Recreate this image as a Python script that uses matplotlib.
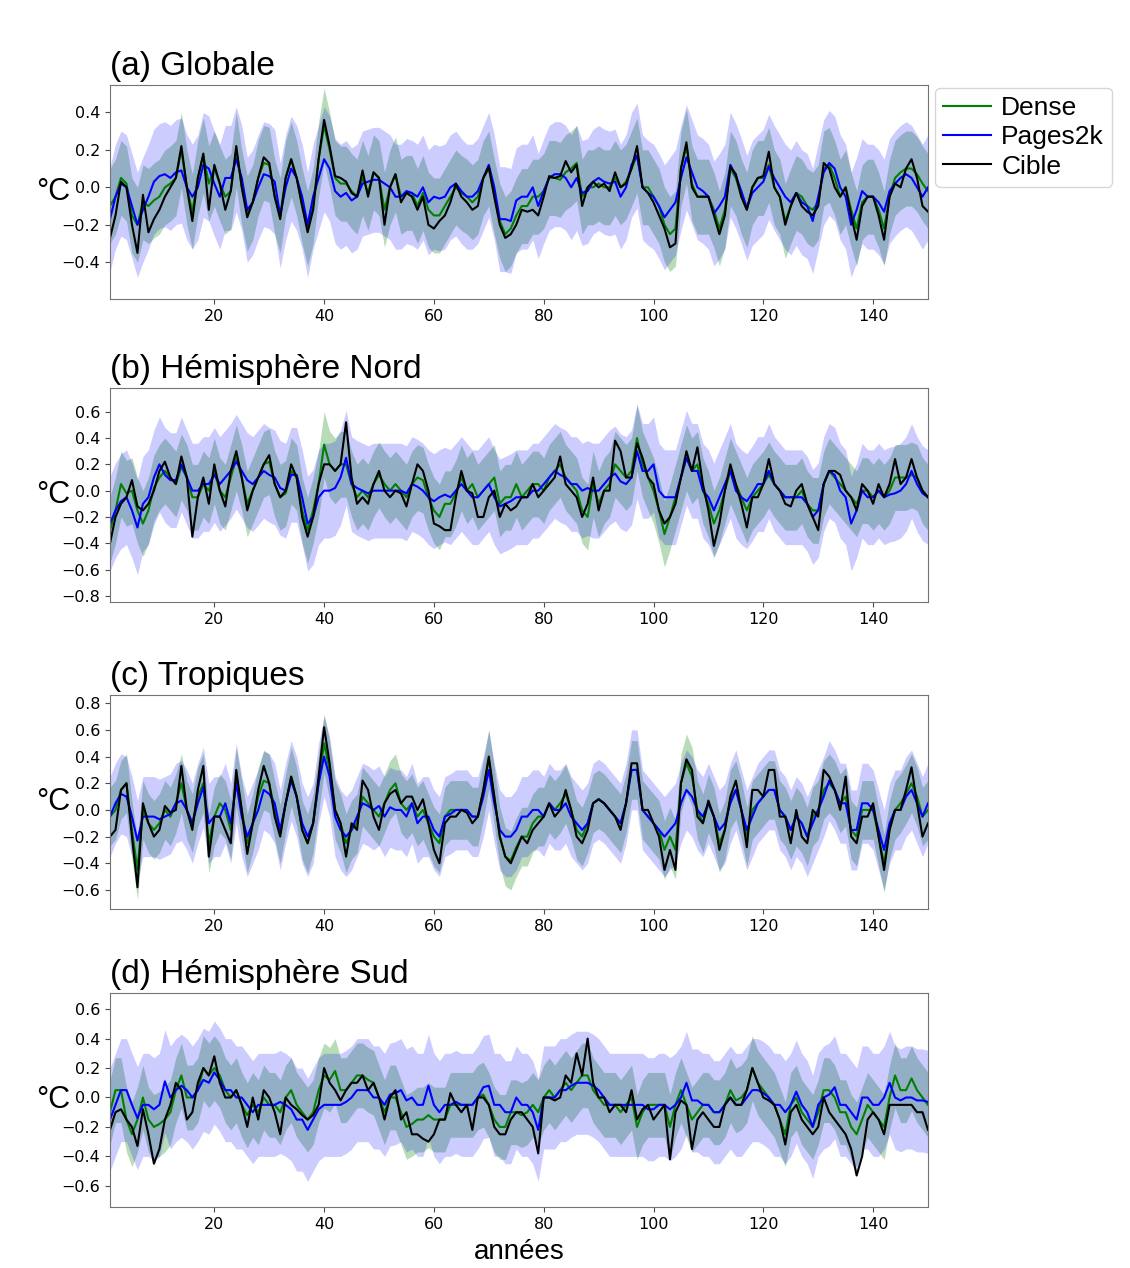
import numpy as np
import matplotlib.pyplot as plt

years = np.arange(1, 151)

# (a) Globale
dense_a = [-0.1, -0.05, 0.05, 0.02, -0.15, -0.2, -0.08, -0.1, -0.07, -0.05,
           0.0, 0.02, 0.05, 0.2, 0.0, -0.13, 0.05, 0.17, 0.02, 0.1,
           0.02, -0.05, -0.02, 0.2, 0.0, -0.14, -0.08, 0.05, 0.13, 0.12,
           -0.05, -0.15, 0.05, 0.15, 0.05, -0.1, -0.22, -0.1, 0.15, 0.33,
           0.2, 0.05, 0.02, 0.02, -0.02, -0.05, 0.05, -0.03, 0.08, 0.05,
           -0.12, 0.0, 0.07, -0.05, -0.03, -0.03, -0.1, -0.03, -0.12, -0.15,
           -0.15, -0.1, -0.05, 0.0, -0.03, -0.05, -0.08, -0.05, 0.05, 0.1,
           -0.05, -0.18, -0.25, -0.22, -0.15, -0.1, -0.1, -0.05, -0.05, -0.02,
           0.05, 0.05, 0.04, 0.08, 0.1, 0.13, -0.05, 0.0, 0.0, 0.02,
           0.0, 0.0, 0.05, 0.0, 0.03, 0.1, 0.17, 0.0, 0.0, -0.05,
           -0.1, -0.2, -0.25, -0.22, 0.1, 0.22, 0.02, -0.05, -0.05, -0.05,
           -0.12, -0.22, -0.12, 0.1, 0.05, -0.05, -0.12, 0.0, 0.05, 0.05,
           0.12, 0.0, -0.05, -0.18, -0.1, -0.03, -0.05, -0.1, -0.12, -0.08,
           0.1, 0.12, 0.05, -0.05, 0.0, -0.12, -0.22, -0.08, -0.05, -0.05,
           -0.12, -0.22, -0.05, 0.05, 0.08, 0.1, 0.1, 0.07, 0.02, -0.02]
pages_a = [-0.17, -0.05, 0.02, 0.0, -0.1, -0.2, -0.12, -0.05, 0.03, 0.06,
           0.07, 0.05, 0.08, 0.09, 0.0, -0.05, 0.0, 0.12, 0.1, 0.02,
           -0.05, 0.05, 0.05, 0.15, 0.05, -0.12, -0.08, 0.0, 0.07, 0.06,
           0.03, -0.15, 0.0, 0.1, 0.05, -0.05, -0.2, -0.05, 0.05, 0.15,
           0.1, -0.02, -0.05, -0.03, -0.07, -0.05, 0.02, 0.03, 0.04, 0.04,
           0.02, 0.0, -0.05, -0.05, -0.02, -0.03, -0.05, 0.0, -0.08, -0.05,
           -0.06, -0.05, 0.0, 0.02, -0.02, -0.05, -0.05, -0.02, 0.05, 0.12,
           0.0, -0.17, -0.17, -0.18, -0.07, -0.05, -0.05, 0.0, -0.1, -0.02,
           0.05, 0.07, 0.07, 0.05, 0.0, 0.05, -0.03, -0.02, 0.03, 0.05,
           0.03, 0.02, 0.03, -0.05, 0.0, 0.12, 0.17, 0.0, -0.03, -0.05,
           -0.1, -0.16, -0.12, -0.08, 0.05, 0.16, 0.08, 0.0, -0.02, -0.05,
           -0.14, -0.1, -0.05, 0.12, 0.06, -0.02, -0.11, -0.03, 0.0, 0.03,
           0.11, 0.05, 0.0, -0.05, -0.08, -0.03, -0.08, -0.1, -0.18, -0.05,
           0.08, 0.13, 0.1, 0.0, -0.05, -0.2, -0.12, -0.02, -0.05, -0.05,
           -0.08, -0.13, -0.02, 0.02, 0.05, 0.07, 0.05, 0.0, -0.05, 0.0]
cible_a = [-0.27, -0.15, 0.03, 0.0, -0.2, -0.35, -0.04, -0.24, -0.17, -0.12,
           -0.05, 0.0, 0.05, 0.22, 0.0, -0.18, 0.05, 0.18, -0.12, 0.12,
           0.02, -0.12, -0.02, 0.22, 0.0, -0.16, -0.08, 0.05, 0.16, 0.13,
           -0.05, -0.17, 0.05, 0.15, 0.05, -0.1, -0.24, -0.12, 0.15, 0.36,
           0.22, 0.06, 0.05, 0.03, -0.03, -0.05, 0.09, -0.05, 0.08, 0.05,
           -0.2, 0.0, 0.07, -0.08, -0.03, -0.05, -0.12, -0.05, -0.2, -0.22,
           -0.18, -0.15, -0.08, 0.02, -0.05, -0.08, -0.12, -0.1, 0.05, 0.11,
           -0.05, -0.2, -0.27, -0.25, -0.2, -0.12, -0.13, -0.12, -0.15, -0.05,
           0.06, 0.05, 0.06, 0.14, 0.08, 0.12, -0.1, 0.0, 0.03, 0.0,
           0.02, -0.02, 0.08, 0.0, 0.02, 0.1, 0.22, 0.0, -0.03, -0.08,
           -0.15, -0.22, -0.32, -0.3, 0.1, 0.24, 0.0, -0.05, -0.05, -0.05,
           -0.15, -0.25, -0.15, 0.11, 0.07, -0.05, -0.12, 0.0, 0.05, 0.06,
           0.19, 0.0, -0.05, -0.2, -0.1, -0.03, -0.1, -0.13, -0.15, -0.1,
           0.13, 0.1, 0.0, -0.05, 0.0, -0.15, -0.28, -0.1, -0.05, -0.05,
           -0.15, -0.28, -0.05, 0.02, 0.0, 0.1, 0.15, 0.05, -0.1, -0.13]

# (b) Hémisphère Nord
dense_b = [-0.3, -0.15, 0.05, -0.02, 0.0, -0.15, -0.25, -0.15, 0.02, 0.1,
           0.15, 0.1, 0.05, 0.18, 0.1, -0.05, -0.05, 0.05, 0.0, 0.15,
           0.0, -0.05, 0.1, 0.25, 0.1, -0.1, 0.0, 0.1, 0.2, 0.22,
           0.05, -0.05, -0.02, 0.15, 0.1, -0.15, -0.3, -0.15, 0.05, 0.35,
           0.2, 0.15, 0.2, 0.2, 0.05, -0.05, 0.0, -0.05, 0.05, 0.12,
           0.05, 0.0, 0.05, 0.0, -0.05, 0.05, 0.1, 0.08, -0.05, -0.15,
           -0.2, -0.1, -0.1, -0.02, 0.1, 0.0, 0.05, -0.05, 0.0, 0.05,
           0.1, -0.1, -0.05, -0.05, 0.05, -0.05, 0.0, 0.05, 0.05, 0.0,
           0.1, 0.15, 0.2, 0.1, 0.05, 0.0, -0.15, -0.2, 0.05, -0.1,
           0.0, 0.05, 0.2, 0.15, 0.1, 0.15, 0.4, 0.2, 0.1, 0.0,
           -0.15, -0.33, -0.2, -0.05, 0.1, 0.25, 0.15, 0.2, 0.0, -0.1,
           -0.25, -0.15, 0.0, 0.15, 0.05, -0.05, -0.15, -0.05, 0.0, 0.05,
           0.12, 0.05, 0.0, -0.05, -0.05, -0.05, 0.0, -0.1, -0.15, -0.15,
           0.05, 0.15, 0.1, 0.05, 0.0, -0.05, -0.1, 0.0, 0.0, -0.05,
           0.0, -0.05, 0.0, 0.1, 0.1, 0.1, 0.12, 0.1, 0.0, -0.05]
pages_b = [-0.25, -0.15, -0.08, -0.05, -0.15, -0.28, -0.1, -0.05, 0.1, 0.2,
           0.12, 0.08, 0.08, 0.2, 0.1, 0.0, 0.0, 0.05, 0.05, 0.12,
           0.05, 0.1, 0.15, 0.22, 0.15, 0.08, 0.05, 0.1, 0.15, 0.12,
           0.1, 0.02, 0.0, 0.12, 0.12, -0.05, -0.25, -0.2, -0.05, 0.0,
           0.0, 0.02, 0.1, 0.25, 0.05, 0.02, 0.0, -0.02, 0.0, 0.0,
           0.0, 0.0, 0.0, 0.0, -0.02, 0.05, 0.03, 0.0, -0.05, -0.08,
           -0.05, -0.03, -0.05, 0.0, 0.05, 0.0, -0.05, -0.05, 0.0, 0.05,
           -0.05, -0.12, -0.1, -0.08, -0.05, -0.05, -0.05, 0.0, 0.0, 0.05,
           0.1, 0.15, 0.12, 0.1, 0.05, 0.05, 0.0, 0.02, 0.0, 0.0,
           0.05, 0.1, 0.13, 0.07, 0.05, 0.1, 0.3, 0.15, 0.15, 0.2,
           0.0, -0.05, -0.05, -0.05, 0.1, 0.25, 0.15, 0.15, 0.0, -0.05,
           -0.15, -0.05, 0.05, 0.15, 0.0, -0.05, -0.08, -0.02, 0.05, 0.05,
           0.15, 0.05, 0.0, -0.05, -0.05, -0.05, -0.05, -0.1, -0.2, -0.15,
           0.05, 0.15, 0.12, 0.0, -0.05, -0.25, -0.15, 0.0, -0.05, -0.05,
           0.0, -0.05, -0.03, -0.02, 0.0, 0.05, 0.15, 0.05, -0.02, -0.05]
cible_b = [-0.4, -0.2, -0.1, -0.05, 0.08, -0.12, -0.15, -0.1, 0.0, 0.15,
           0.22, 0.1, 0.05, 0.26, 0.1, -0.35, -0.05, 0.1, -0.1, 0.2,
           0.0, -0.12, 0.15, 0.3, 0.1, -0.15, 0.0, 0.1, 0.2, 0.27,
           0.05, -0.05, 0.0, 0.2, 0.1, -0.2, -0.35, -0.2, 0.05, 0.2,
           0.2, 0.15, 0.2, 0.52, 0.1, -0.1, -0.05, -0.1, 0.05, 0.15,
           0.0, -0.05, 0.0, -0.02, -0.12, 0.05, 0.2, 0.15, 0.0, -0.25,
           -0.27, -0.3, -0.3, -0.05, 0.15, 0.0, -0.02, -0.2, -0.2, -0.05,
           0.0, -0.2, -0.1, -0.15, -0.12, -0.05, -0.05, 0.05, -0.05, 0.0,
           0.05, 0.1, 0.26, 0.05, 0.0, -0.05, -0.2, -0.1, 0.1, -0.15,
           0.0, 0.0, 0.38, 0.3, 0.1, 0.1, 0.36, 0.25, 0.1, 0.05,
           -0.15, -0.25, -0.2, -0.1, 0.1, 0.3, 0.15, 0.33, 0.05, -0.15,
           -0.42, -0.25, 0.0, 0.2, 0.05, -0.1, -0.28, -0.05, -0.05, 0.05,
           0.24, 0.05, 0.0, -0.1, -0.12, 0.0, 0.05, -0.1, -0.2, -0.3,
           0.05, 0.15, 0.15, 0.12, 0.0, -0.05, -0.15, 0.05, 0.0, -0.1,
           0.05, -0.05, 0.05, 0.24, 0.05, 0.1, 0.24, 0.1, 0.0, -0.05]

# (c) Tropiques
dense_c = [-0.05, 0.0, 0.15, 0.2, -0.15, -0.45, 0.0, -0.1, -0.15, -0.1,
           0.0, -0.05, 0.05, 0.2, 0.0, -0.1, 0.1, 0.2, -0.25, -0.05,
           0.05, 0.0, -0.15, 0.25, 0.0, -0.25, -0.1, 0.1, 0.22, 0.2,
           0.0, -0.18, 0.05, 0.25, 0.1, -0.15, -0.25, -0.1, 0.2, 0.5,
           0.3, 0.0, -0.1, -0.25, -0.15, -0.1, 0.1, 0.05, 0.0, -0.05,
           0.05, 0.15, 0.2, 0.05, 0.0, 0.05, -0.05, 0.0, -0.1, -0.2,
           -0.25, -0.05, 0.0, 0.0, 0.0, 0.0, -0.05, -0.05, 0.15, 0.38,
           0.1, -0.2, -0.35, -0.38, -0.28, -0.2, -0.2, -0.1, -0.05, -0.05,
           0.05, 0.0, 0.05, 0.12, 0.0, -0.15, -0.2, -0.1, 0.05, 0.08,
           0.05, 0.0, -0.05, -0.1, 0.05, 0.3, 0.3, 0.0, -0.05, -0.1,
           -0.15, -0.3, -0.2, -0.3, 0.2, 0.35, 0.25, 0.0, -0.1, 0.05,
           -0.05, -0.25, -0.15, 0.08, 0.15, 0.0, -0.2, 0.0, 0.05, 0.1,
           0.15, 0.15, 0.0, -0.05, -0.15, -0.05, -0.1, -0.2, -0.05, 0.0,
           0.15, 0.2, 0.15, 0.05, 0.1, -0.15, -0.2, 0.0, 0.0, 0.0,
           -0.2, -0.4, -0.15, 0.0, 0.05, 0.12, 0.2, 0.1, -0.05, 0.0]
pages_c = [-0.05, 0.05, 0.12, 0.1, -0.05, -0.23, -0.05, -0.05, -0.05, -0.07,
           -0.05, -0.03, 0.05, 0.07, 0.0, -0.1, 0.05, 0.17, -0.1, -0.05,
           -0.05, 0.05, -0.1, 0.2, -0.05, -0.2, -0.1, 0.0, 0.15, 0.12,
           0.05, -0.15, 0.05, 0.22, 0.1, -0.1, -0.2, -0.1, 0.2, 0.4,
           0.25, -0.05, -0.15, -0.2, -0.15, -0.05, 0.05, 0.03, 0.0, 0.03,
           -0.05, 0.02, 0.0, 0.0, -0.05, 0.05, -0.1, -0.05, -0.05, -0.15,
           -0.2, -0.05, -0.03, 0.0, 0.0, 0.0, -0.05, -0.05, 0.1, 0.3,
           0.05, -0.15, -0.2, -0.2, -0.15, -0.05, -0.05, 0.0, 0.0, -0.05,
           0.05, 0.0, 0.0, 0.05, -0.05, -0.1, -0.15, -0.1, 0.05, 0.08,
           0.05, 0.0, -0.05, -0.1, 0.05, 0.3, 0.3, 0.0, -0.05, -0.1,
           -0.15, -0.2, -0.15, -0.1, 0.05, 0.15, 0.1, 0.0, -0.05, 0.05,
           -0.05, -0.15, -0.1, 0.05, 0.15, 0.0, -0.15, -0.05, 0.05, 0.1,
           0.15, 0.15, 0.0, -0.05, -0.15, -0.05, -0.1, -0.2, -0.1, 0.0,
           0.1, 0.22, 0.15, 0.05, 0.05, -0.15, -0.15, 0.05, 0.05, 0.0,
           -0.15, -0.3, -0.1, 0.0, 0.0, 0.1, 0.15, 0.05, -0.05, 0.05]
cible_c = [-0.2, -0.15, 0.15, 0.2, -0.2, -0.58, 0.05, -0.1, -0.2, -0.15,
           0.03, -0.02, 0.0, 0.33, 0.0, -0.15, 0.15, 0.33, -0.35, -0.05,
           -0.05, -0.15, -0.25, 0.3, 0.0, -0.33, -0.1, 0.15, 0.33, 0.2,
           -0.05, -0.2, 0.05, 0.25, 0.1, -0.15, -0.25, -0.1, 0.25, 0.62,
           0.35, 0.0, -0.1, -0.35, -0.1, -0.15, 0.22, 0.15, -0.05, -0.15,
           0.05, 0.12, 0.15, 0.05, 0.1, 0.1, 0.0, 0.08, -0.1, -0.3,
           -0.4, -0.1, -0.05, -0.05, 0.0, -0.02, -0.1, -0.05, 0.15, 0.4,
           0.1, -0.2, -0.35, -0.4, -0.3, -0.2, -0.25, -0.15, -0.1, -0.05,
           0.05, -0.05, 0.0, 0.15, 0.0, -0.2, -0.25, -0.15, 0.05, 0.08,
           0.05, 0.0, -0.05, -0.15, 0.05, 0.35, 0.35, 0.0, 0.0, -0.1,
           -0.2, -0.45, -0.3, -0.45, 0.2, 0.38, 0.3, -0.05, -0.1, 0.07,
           -0.05, -0.3, -0.15, 0.1, 0.22, 0.0, -0.28, 0.15, 0.15, 0.1,
           0.3, 0.3, -0.05, -0.05, -0.25, 0.0, -0.2, -0.25, 0.0, -0.05,
           0.3, 0.25, 0.15, 0.0, 0.25, -0.2, -0.25, -0.05, -0.05, 0.05,
           -0.2, -0.45, -0.15, 0.0, 0.0, 0.15, 0.32, 0.05, -0.2, -0.1]

# (d) Hémisphère Sud
dense_d = [-0.1, 0.05, 0.05, -0.15, -0.25, -0.15, 0.0, -0.15, -0.2, -0.18,
           -0.15, -0.1, 0.05, 0.15, 0.0, 0.0, 0.05, 0.2, 0.15, 0.2,
           0.15, 0.05, 0.0, 0.05, -0.05, -0.12, -0.05, -0.1, 0.0, -0.05,
           -0.05, -0.1, 0.0, 0.05, -0.05, -0.1, -0.15, -0.1, 0.05, 0.15,
           0.12, 0.18, 0.05, 0.05, 0.1, 0.15, 0.15, 0.12, 0.1, 0.0,
           -0.1, 0.0, 0.0, -0.1, -0.2, -0.18, -0.15, -0.15, -0.12, -0.15,
           -0.15, -0.15, -0.05, -0.05, -0.05, -0.05, -0.05, 0.0, 0.02, -0.05,
           -0.15, -0.2, -0.2, -0.1, -0.1, -0.12, -0.1, -0.05, -0.1, 0.0,
           0.05, 0.0, 0.05, 0.1, 0.05, 0.1, 0.15, 0.15, 0.05, 0.0,
           -0.05, -0.05, -0.05, -0.1, -0.05, 0.0, -0.2, -0.1, -0.05, -0.05,
           -0.05, -0.05, -0.2, -0.05, 0.05, -0.05, -0.15, -0.1, -0.05, -0.05,
           -0.1, -0.1, -0.05, 0.05, -0.02, 0.0, 0.05, 0.2, 0.1, 0.05,
           0.0, -0.05, -0.15, -0.25, -0.05, 0.0, -0.1, -0.15, -0.2, -0.1,
           0.05, 0.05, 0.0, -0.1, -0.1, -0.2, -0.25, -0.15, -0.05, -0.1,
           -0.15, -0.2, 0.0, 0.15, 0.05, 0.05, 0.13, 0.05, 0.0, -0.05]
pages_d = [-0.15, -0.05, 0.05, 0.05, -0.05, -0.14, -0.05, -0.05, -0.08, -0.05,
           0.11, 0.0, 0.05, 0.08, 0.05, 0.0, 0.05, 0.12, 0.1, 0.17,
           0.12, 0.05, 0.05, 0.0, 0.0, -0.05, -0.1, -0.05, -0.05, -0.05,
           -0.05, -0.03, -0.05, -0.08, -0.15, -0.15, -0.22, -0.15, -0.08, -0.05,
           -0.05, -0.05, -0.05, -0.03, 0.0, 0.05, 0.05, 0.05, 0.0, 0.0,
           -0.05, 0.02, 0.03, 0.05, -0.02, 0.0, -0.05, -0.05, 0.08, -0.05,
           -0.1, -0.05, -0.05, -0.03, -0.05, -0.05, -0.05, 0.0, 0.07, 0.08,
           -0.05, -0.05, -0.1, -0.1, 0.0, -0.05, -0.05, -0.1, -0.22, 0.0,
           0.0, 0.0, 0.05, 0.05, 0.08, 0.1, 0.1, 0.1, 0.08, 0.05,
           0.0, -0.05, -0.05, -0.05, -0.05, -0.05, -0.05, -0.05, -0.08, -0.08,
           -0.05, -0.05, -0.08, -0.05, 0.0, 0.1, -0.02, -0.02, -0.05, -0.05,
           -0.1, -0.1, -0.05, 0.0, -0.05, -0.05, 0.0, 0.05, 0.05, 0.03,
           0.0, -0.05, -0.05, -0.1, -0.05, 0.04, -0.05, -0.1, -0.2, -0.05,
           0.0, 0.02, 0.07, -0.05, -0.05, -0.1, -0.15, 0.0, 0.0, -0.05,
           -0.05, 0.0, 0.1, 0.0, -0.02, 0.0, 0.0, -0.02, -0.02, -0.03]
cible_d = [-0.22, -0.1, -0.08, -0.15, -0.2, -0.33, -0.08, -0.25, -0.45, -0.35,
           -0.15, -0.05, 0.1, 0.05, -0.15, -0.1, 0.1, 0.2, 0.15, 0.28,
           0.1, 0.0, 0.0, 0.05, -0.05, -0.2, 0.0, -0.15, 0.05, 0.0,
           -0.1, -0.25, 0.0, -0.05, -0.08, -0.12, -0.15, -0.12, -0.05, 0.2,
           0.1, 0.05, -0.02, 0.05, 0.1, 0.1, 0.15, 0.05, 0.1, 0.0,
           -0.15, 0.0, 0.05, -0.15, -0.1, -0.25, -0.25, -0.28, -0.3, -0.25,
           -0.15, -0.15, 0.03, -0.05, -0.1, -0.05, -0.22, 0.0, 0.0, -0.05,
           -0.2, -0.25, -0.25, -0.15, -0.1, -0.1, -0.15, -0.2, -0.38, 0.0,
           0.0, -0.02, 0.0, 0.15, 0.1, 0.3, 0.15, 0.4, 0.1, 0.0,
           0.0, -0.1, -0.05, -0.05, -0.1, 0.05, -0.15, -0.08, -0.05, -0.15,
           -0.1, -0.05, -0.42, -0.1, -0.02, -0.05, -0.35, -0.15, -0.1, -0.15,
           -0.2, -0.2, -0.05, 0.0, -0.05, -0.05, 0.05, 0.2, 0.1, 0.0,
           -0.02, -0.05, -0.15, -0.32, -0.1, -0.05, -0.15, -0.2, -0.25, -0.2,
           0.0, -0.1, -0.15, -0.2, -0.25, -0.35, -0.53, -0.4, -0.15, -0.1,
           -0.15, -0.25, -0.05, -0.05, -0.05, -0.05, -0.05, -0.1, -0.1, -0.22]

titles = ['(a) Globale', '(b) Hémisphère Nord', '(c) Tropiques', '(d) Hémisphère Sud']
dense_all = [dense_a, dense_b, dense_c, dense_d]
pages_all = [pages_a, pages_b, pages_c, pages_d]
cible_all = [cible_a, cible_b, cible_c, cible_d]
# half-width of the uncertainty bands, per panel
spread_dense = [0.2, 0.25, 0.22, 0.22]
spread_pages = [0.28, 0.36, 0.3, 0.35]
ylims = [(-0.596, 0.546), (-0.846, 0.78), (-0.743, 0.862), (-0.744, 0.71)]
yticks = [np.arange(-0.4, 0.41, 0.2), np.arange(-0.8, 0.61, 0.2),
          np.arange(-0.6, 0.81, 0.2), np.arange(-0.6, 0.61, 0.2)]

fig = plt.figure(figsize=(11.3, 12.68), dpi=100)
tops = [85, 388, 695, 993]
H = 1268.0
W = 1130.0
sans = 'Liberation Sans'

for i in range(4):
    top = tops[i]
    ax = fig.add_axes([110 / W, 1 - (top + 214) / H, 818 / W, 214 / H])
    d = np.array(dense_all[i])
    p = np.array(pages_all[i])
    c = np.array(cible_all[i])
    ax.fill_between(years, d - spread_dense[i], d + spread_dense[i],
                    color='green', alpha=0.28, lw=0)
    ax.fill_between(years, p - spread_pages[i], p + spread_pages[i],
                    color='blue', alpha=0.2, lw=0)
    ax.plot(years, d, color='green', lw=1.5, label='Dense')
    ax.plot(years, p, color='blue', lw=1.5, label='Pages2k')
    ax.plot(years, c, color='black', lw=1.5, label='Cible')
    ax.set_xlim(1, 150)
    ax.set_ylim(*ylims[i])
    ax.set_yticks(yticks[i])
    ax.set_xticks([20, 40, 60, 80, 100, 120, 140])
    ax.tick_params(labelsize=11.5, color='0.3')
    for s in ax.spines.values():
        s.set_color('0.45')
    ax.set_title(titles[i], loc='left', fontsize=24, family=sans, pad=7)
    ax.set_ylabel('°C', rotation=0, fontsize=22, family=sans, labelpad=6,
                  va='center')
    if i == 0:
        ax.legend(loc='upper left', bbox_to_anchor=(1.009, 0.985),
                  borderaxespad=0, prop={'family': sans, 'size': 19},
                  handlelength=1.8, handletextpad=0.4, labelspacing=0.2,
                  borderpad=0.3)
    if i == 3:
        ax.set_xlabel('années', fontsize=20, family=sans, labelpad=5)

fig.savefig('out.png', dpi=100)
